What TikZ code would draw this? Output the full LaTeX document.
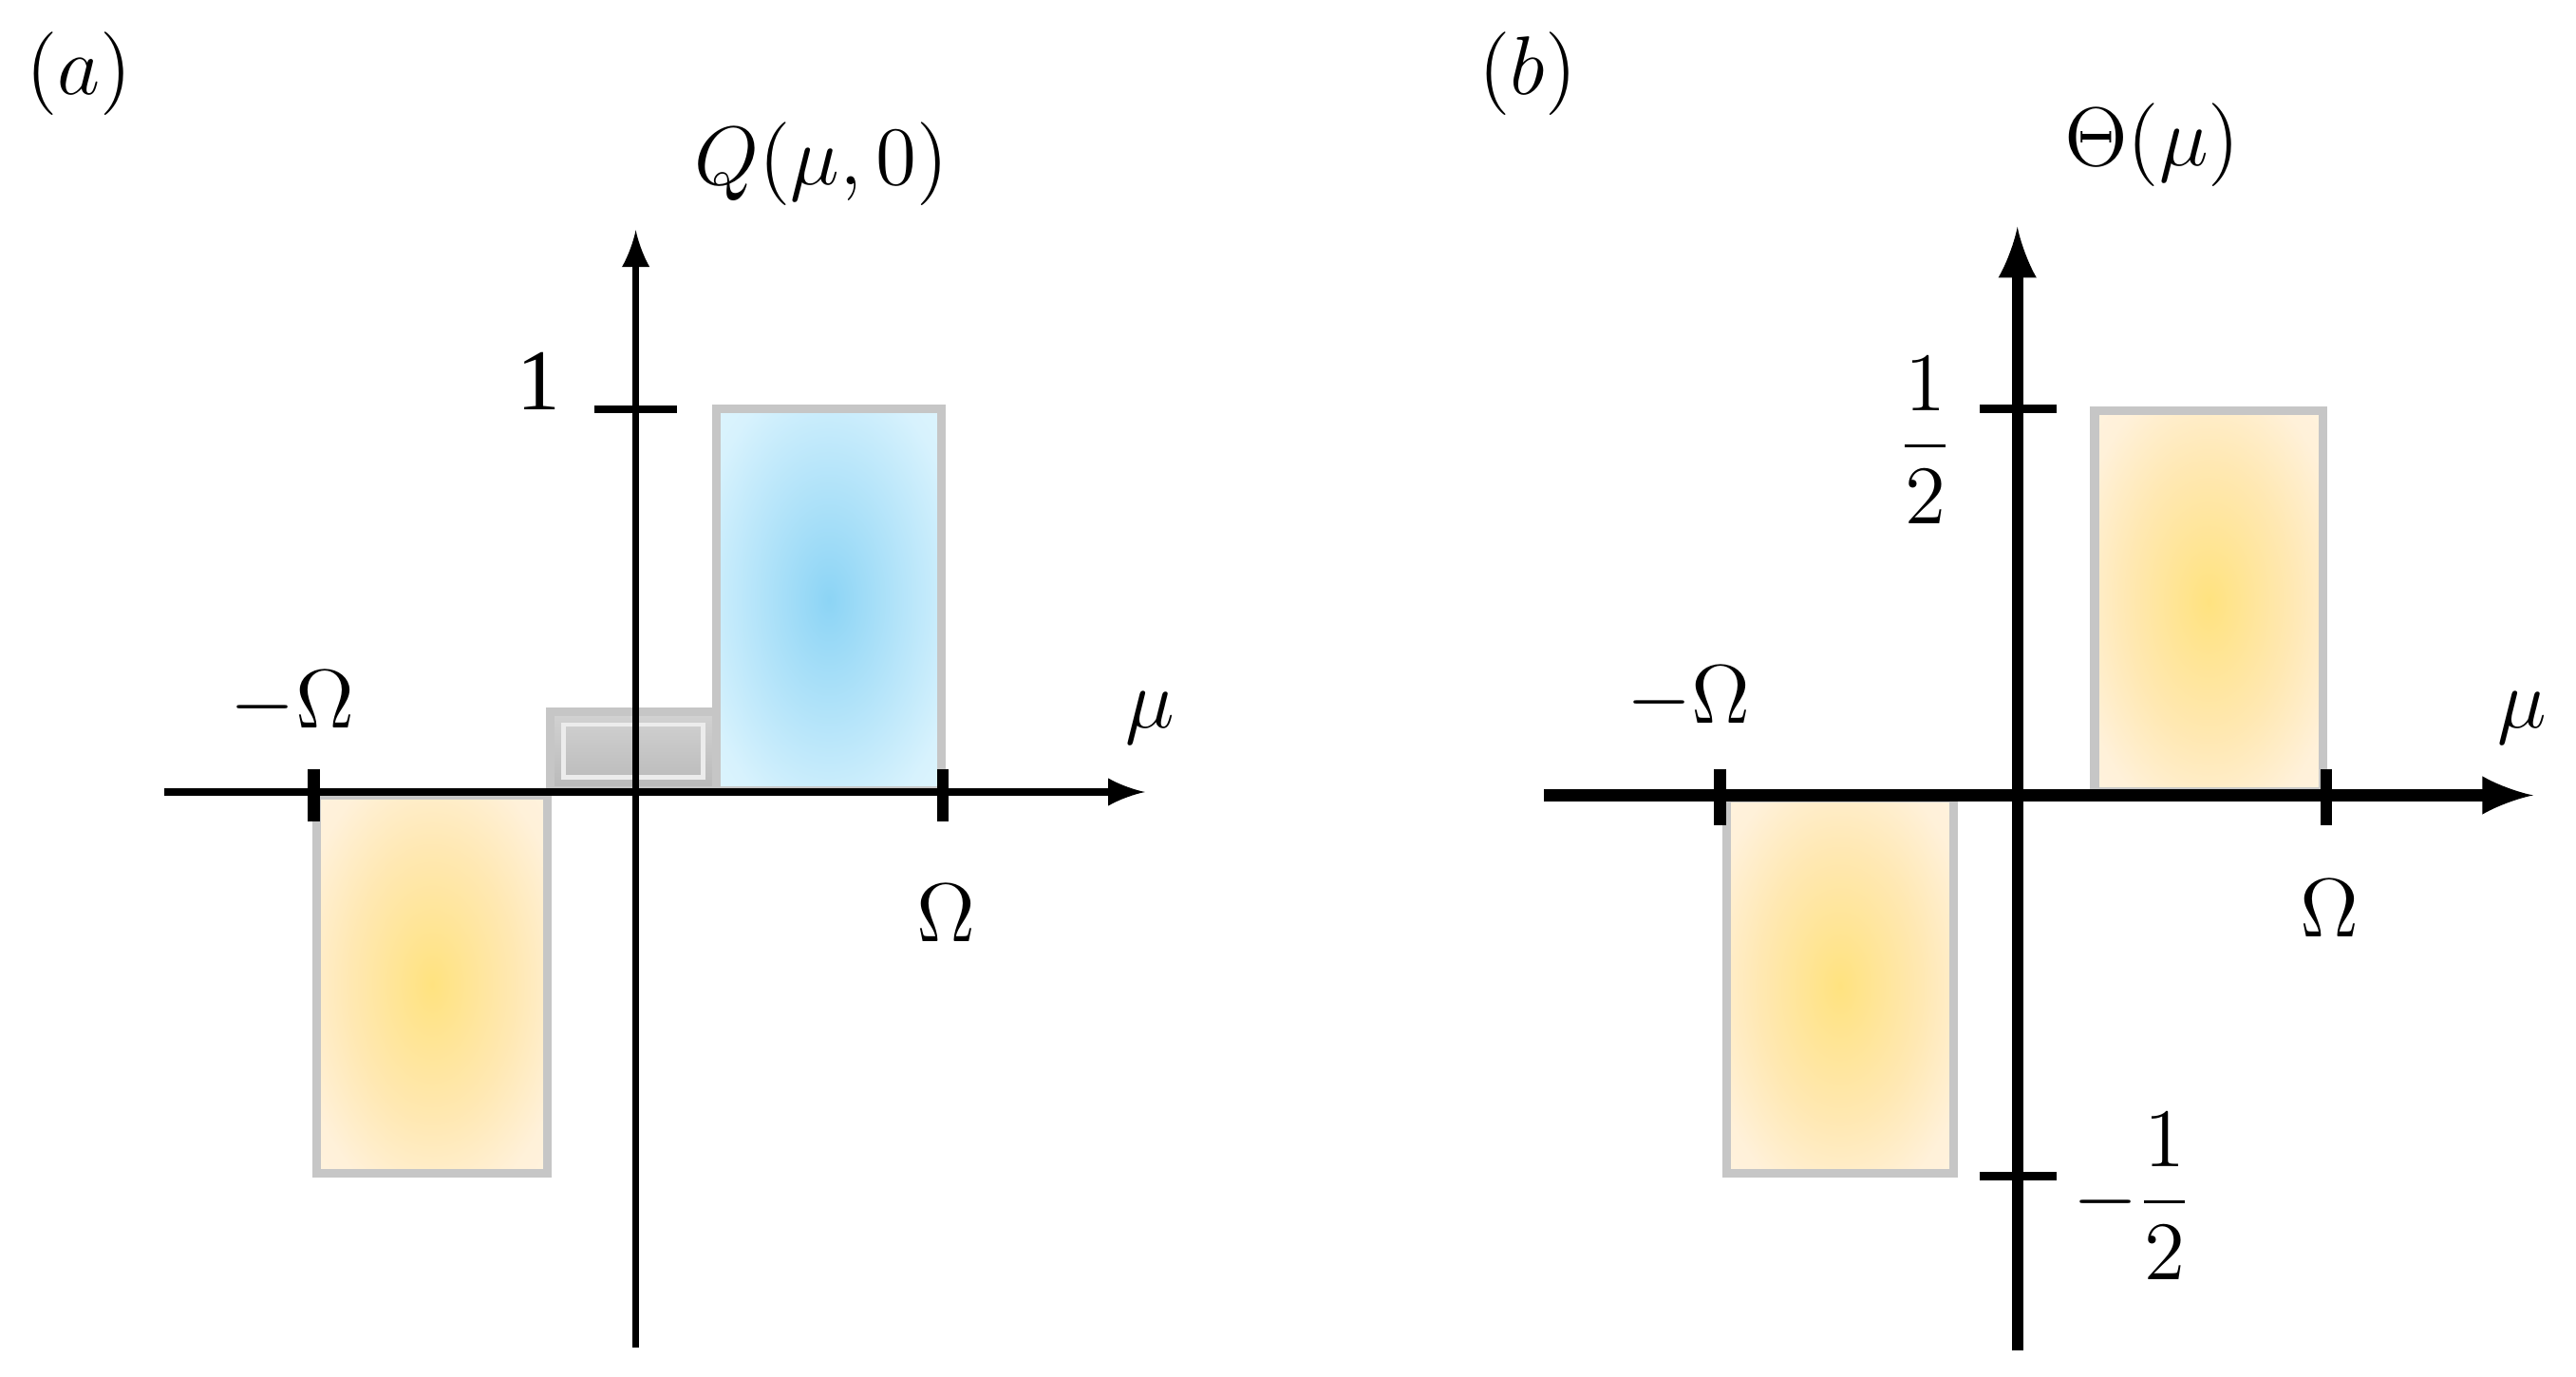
\documentclass[tikz,border=0pt]{standalone}
\usepackage{amsmath}
\usepackage{fontspec}
\setmainfont{Liberation Serif}
\definecolor{sky1}{RGB}{140,212,245}
\definecolor{sky2}{RGB}{185,230,250}
\definecolor{sky3}{RGB}{215,242,253}
\definecolor{sky4}{RGB}{235,249,255}
\pgfdeclareradialshading{yelsh}{\pgfpoint{0bp}{0bp}}{color(0bp)=(yellow!55!orange!50); color(18bp)=(yellow!40!orange!30); color(30bp)=(yellow!25!orange!15); color(50bp)=(yellow!15!orange!8)}
\pgfdeclareradialshading{blush}{\pgfpoint{0bp}{0bp}}{color(0bp)=(sky1); color(18bp)=(sky2); color(30bp)=(sky3); color(50bp)=(sky4)}
\begin{document}
\begin{tikzpicture}[x=0.01cm,y=-0.01cm,
  lab/.style={font=\fontsize{15}{18}\selectfont},
  ax/.style={line width=1.2pt,-latex},
  axb/.style={line width=2pt,-latex},
  yel/.style={shading=yelsh, draw=gray!45, line width=1.5pt},
  blu/.style={shading=blush, draw=gray!45, line width=1.5pt},
  gry/.style={top color=gray!35, bottom color=gray!55, draw=gray!45, line width=1.5pt}]
\useasboundingbox (0,0) rectangle (1568,838);
% panel a
\filldraw[yel] (193,484) rectangle (333,714);
\filldraw[gry] (335,433) rectangle (436,481);
\draw[gray!15,line width=0.8pt] (343,441) rectangle (428,473);
\filldraw[blu] (436,249) rectangle (573,481);
\coordinate (ax0) at (100,482); \coordinate (ax1) at (697,482);
\coordinate (ay0) at (387,820); \coordinate (ay1) at (387,140);
\draw[ax] (ax0) -- (ax1);
\draw[ax] (ay0) -- (ay1);
\draw[line width=2pt] (191,468) -- (191,500) (574,468) -- (574,500);
\draw[line width=1.2pt] (362,249) -- (412,249);
\node[lab] (a) at (48,45) {$(a)$};
\node[lab] (q) at (500,100) {$Q(\mu,0)$};
\node[lab] (one) at (328,232) {1};
\node[lab] (mo1) at (178,428) {$-\Omega$};
\node[lab] (o1) at (576,556) {$\Omega$};
\node[lab] (mu1) at (700,437) {$\mu$};
% panel b
\filldraw[yel] (1275,250) rectangle (1414,482);
\filldraw[yel] (1051,486) rectangle (1189,714);
\coordinate (bx0) at (940,484); \coordinate (bx1) at (1542,484);
\coordinate (by0) at (1228,822); \coordinate (by1) at (1228,138);
\draw[axb] (bx0) -- (bx1);
\draw[axb] (by0) -- (by1);
\draw[line width=2pt] (1047,468) -- (1047,502) (1416,468) -- (1416,502);
\draw[line width=1.5pt] (1205,249) -- (1252,249) (1205,716) -- (1252,716);
\node[lab] (b) at (930,45) {$(b)$};
\node[lab] (th) at (1310,88) {$\Theta(\mu)$};
\node[lab] (half) at (1172,268) {$\dfrac{1}{2}$};
\node[lab] (mhalf) at (1298,728) {$-\dfrac{1}{2}$};
\node[lab] (mo2) at (1028,425) {$-\Omega$};
\node[lab] (o2) at (1418,553) {$\Omega$};
\node[lab] (mu2) at (1535,437) {$\mu$};
\end{tikzpicture}
\end{document}
